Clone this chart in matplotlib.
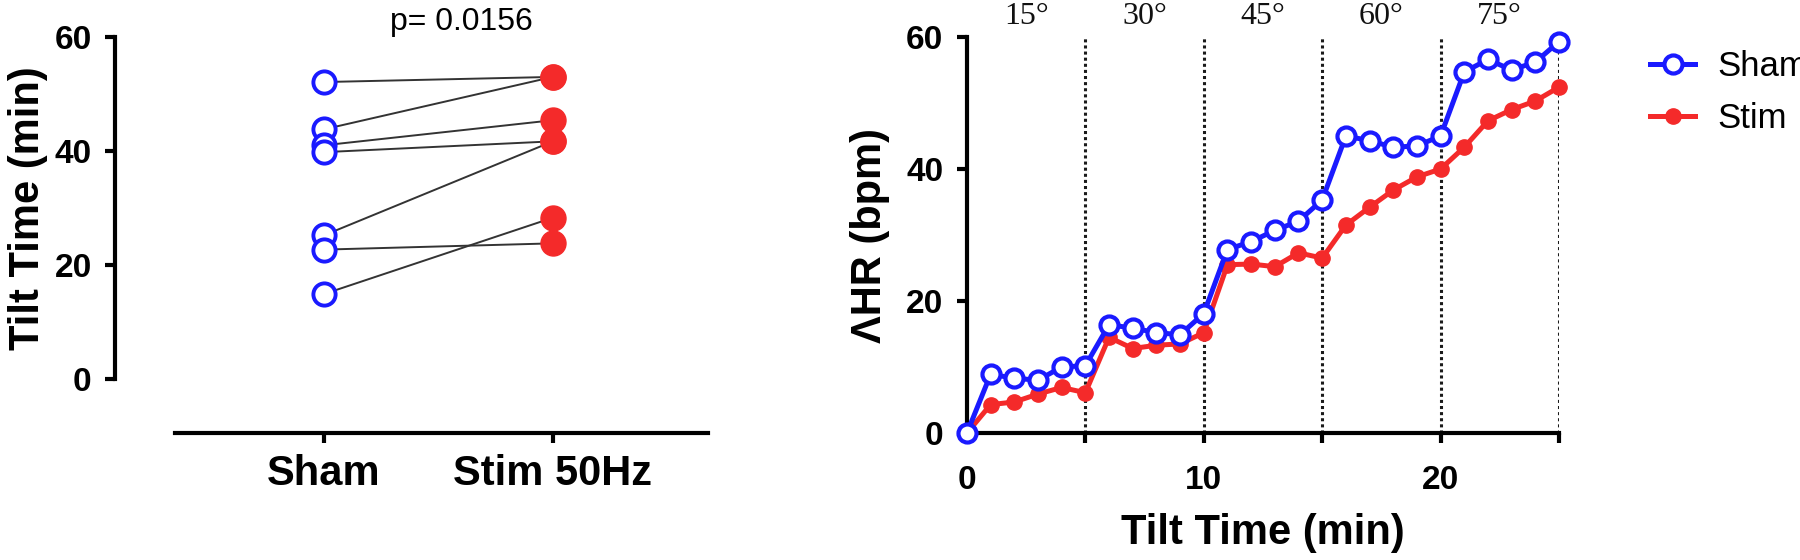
import numpy as np
import matplotlib
matplotlib.use("Agg")
import matplotlib.pyplot as plt
from matplotlib.transforms import blended_transform_factory

# paired tilt times (min)
groups = ["Sham", "Stim 50Hz"]
sham_tilt = [52.1, 43.8, 41.0, 39.8, 25.2, 22.7, 14.9]
stim_tilt = [53.0, 53.0, 45.4, 41.7, 41.7, 23.8, 28.3]
p_text = "p= 0.0156"

# heart rate change over tilt time
minutes = [0, 1, 2, 3, 4, 5, 6, 7, 8, 9, 10, 11, 12, 13, 14, 15, 16, 17, 18, 19, 20, 21, 22, 23, 24, 25]
sham_hr = [0, 8.9, 8.3, 8.0, 10.0, 10.2, 16.4, 15.9, 15.2, 14.9, 18.1, 27.8, 29.0, 30.7, 32.1, 35.3,
           45.0, 44.3, 43.3, 43.5, 45.0, 54.7, 56.6, 55.0, 56.2, 59.3]
stim_hr = [0, 4.3, 4.7, 5.9, 6.9, 6.1, 14.5, 12.8, 13.3, 13.5, 15.2, 25.5, 25.6, 25.2, 27.3, 26.5,
           31.5, 34.2, 36.8, 38.8, 40.0, 43.3, 47.3, 49.0, 50.3, 52.4]
stage_ends = [5, 10, 15, 20, 25]
stage_labels = ["15°", "30°", "45°", "60°", "75°"]

BLUE = "#1a1aff"
RED = "#f42a2a"

plt.rcParams["font.family"] = ["Liberation Sans", "DejaVu Sans"]


def main():
    fig = plt.figure(figsize=(18, 5.6), dpi=100)

    # ---- left: paired plot
    ax1 = fig.add_axes([0.0972, 0.3232, 0.2961, 0.6107])
    for a, b in zip(sham_tilt, stim_tilt):
        ax1.plot([0, 1], [a, b], color="#333333", lw=1.4, zorder=2)
    ax1.plot(np.zeros(len(sham_tilt)), sham_tilt, "o", ms=16, mfc="white", mec=BLUE, mew=2.8,
             ls="none", zorder=3, clip_on=False)
    ax1.plot(np.ones(len(stim_tilt)), stim_tilt, "o", ms=18, mfc=RED, mec=RED, mew=1,
             ls="none", zorder=3, clip_on=False)
    ax1.set_xlim(-0.65, 1.677)
    ax1.set_ylim(0, 60)
    ax1.spines["top"].set_visible(False)
    ax1.spines["right"].set_visible(False)
    ax1.spines["left"].set_position(("outward", 43))
    ax1.spines["bottom"].set_position(("outward", 39))
    for s in ("left", "bottom"):
        ax1.spines[s].set_linewidth(3)
    ax1.set_yticks([0, 20, 40, 60])
    ax1.set_xticks([0, 1])
    ax1.set_xticklabels(groups)
    ax1.tick_params(axis="y", length=7, width=3, pad=10, labelsize=24)
    ax1.tick_params(axis="x", length=7, width=3, pad=8, labelsize=30)
    for lab in ax1.get_xticklabels() + ax1.get_yticklabels():
        lab.set_fontweight("bold")
    ax1.set_ylabel("Tilt Time (min)", fontsize=30, fontweight="bold", va="center")
    ax1.yaxis.set_label_coords(-0.275, 0.5)
    ax1.text(0.6, 62.6, p_text, fontsize=23, ha="center", va="center", clip_on=False)

    # ---- right: HR over time
    ax2 = fig.add_axes([0.5372, 0.2268, 0.3289, 0.7071])
    for xe in stage_ends:
        ax2.plot([xe, xe], [0, 60], color="#1a1a1a", lw=2.2, ls=(0, (1, 1)), zorder=1)
    ax2.plot(minutes, stim_hr, "-o", color=RED, lw=3.6, ms=11, mec=RED, label="Stim",
             zorder=3, clip_on=False)
    ax2.plot(minutes, sham_hr, "-o", color=BLUE, lw=3.6, ms=13, mfc="white", mec=BLUE, mew=3,
             label="Sham", zorder=4, clip_on=False)
    ax2.set_xlim(0, 25)
    ax2.set_ylim(0, 60)
    ax2.spines["top"].set_visible(False)
    ax2.spines["right"].set_visible(False)
    for s in ("left", "bottom"):
        ax2.spines[s].set_linewidth(3)
    ax2.set_yticks([0, 20, 40, 60])
    ax2.set_xticks([0, 5, 10, 15, 20, 25])
    ax2.set_xticklabels(["0", "", "10", "", "20", ""])
    ax2.tick_params(axis="y", length=7, width=3, pad=10, labelsize=24)
    ax2.tick_params(axis="x", length=7, width=3, pad=16, labelsize=24)
    for lab in ax2.get_xticklabels() + ax2.get_yticklabels():
        lab.set_fontweight("bold")
    ax2.set_xlabel("Tilt Time (min)", fontsize=30, fontweight="bold", labelpad=12)
    ax2.set_ylabel("ΛHR (bpm)", fontsize=30, fontweight="bold", va="center")
    ax2.yaxis.set_label_coords(-0.163, 0.5)

    trans = blended_transform_factory(ax2.transData, fig.transFigure)
    for xe, lab in zip(stage_ends, stage_labels):
        ax2.text(xe - 2.5, 1 - 17 / 560, lab, transform=trans, ha="center", va="center",
                 fontsize=23, family="Liberation Serif", color="#111111")

    h, l = ax2.get_legend_handles_labels()
    fig.legend(h[::-1], l[::-1], loc="upper left", bbox_to_anchor=(0.9167, 0.91),
               frameon=False, fontsize=25, handlelength=1.3, handletextpad=0.65,
               labelspacing=0.55, borderpad=0, borderaxespad=0)

    fig.savefig("out.png", dpi=100)


if __name__ == "__main__":
    main()
